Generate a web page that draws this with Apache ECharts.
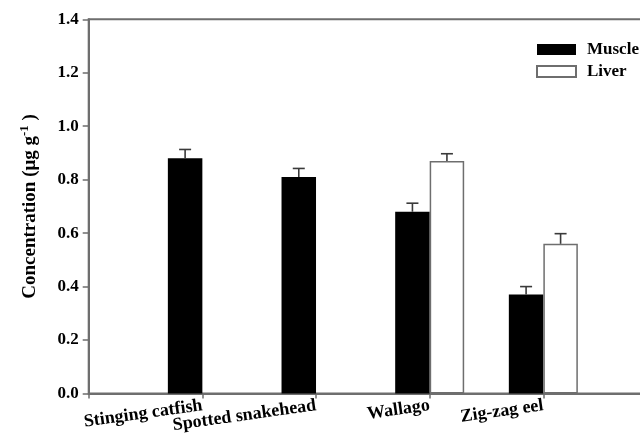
<!DOCTYPE html>
<html>
<head>
<meta charset="utf-8">
<script src="https://cdn.jsdelivr.net/npm/echarts@6/dist/echarts.min.js"></script>
<style>
  html, body { margin: 0; padding: 0; background: #fff; overflow: hidden; }
  /* The plot frame runs past the right edge of the page, so the canvas is a bit wider than the view */
  #chart { width: 660px; height: 438px; }
</style>
</head>
<body>
<div id="chart"></div>
<script>
// Fish species and measured concentrations (µg g-1)
const species = ['Stinging catfish', 'Spotted snakehead', 'Wallago', 'Zig-zag eel'];
const muscle = [0.88, 0.81, 0.68, 0.37];
const muscleErr = [0.033, 0.032, 0.032, 0.03];
const liver = [null, null, 0.87, 0.56];
const liverErr = [null, null, 0.027, 0.038];
const yTicks = [0.0, 0.2, 0.4, 0.6, 0.8, 1.0, 1.2, 1.4];

const FONT = '"Liberation Serif", "Times New Roman", serif';
const AXIS_GRAY = '#6e6e6e';
const BAR_W = 34.5;

// Pad the category axis with empty slots so the species sit at 1..4
const axisCats = [''].concat(species, ['']);
const pad = arr => [null].concat(arr, [null]);

function errorSeries(name, values, errs, side) {
  const data = [];
  values.forEach((v, i) => {
    if (v != null) data.push([i + 1, v, errs[i]]);
  });
  return {
    type: 'custom',
    name: name + ' error',
    silent: true,
    z: 5,
    data: data,
    encode: { x: 0, y: 1 },
    renderItem: function (params, api) {
      const base = api.coord([api.value(0), api.value(1)]);
      const top = api.coord([api.value(0), api.value(1) + api.value(2)]);
      const x = base[0] + side * BAR_W / 2;
      const cap = 6;
      const style = { stroke: '#3a3a3a', lineWidth: 1.6 };
      return {
        type: 'group',
        children: [
          { type: 'line', shape: { x1: x, y1: base[1], x2: x, y2: top[1] }, style: style },
          { type: 'line', shape: { x1: x - cap, y1: top[1], x2: x + cap, y2: top[1] }, style: style }
        ]
      };
    }
  };
}

const chart = echarts.init(document.getElementById('chart'), null, { renderer: 'canvas' });

chart.setOption({
  animation: false,
  backgroundColor: '#fff',
  grid: {
    left: 88.7, top: 19.3, bottom: 44.5, right: 3,
    show: true, borderColor: AXIS_GRAY, borderWidth: 2, containLabel: false
  },
  legend: {
    orient: 'vertical',
    left: 536, top: 41,
    padding: 0,
    itemWidth: 39, itemHeight: 11, itemGap: 5,
    icon: 'rect',
    data: ['Muscle', 'Liver'],
    textStyle: { fontFamily: FONT, fontWeight: 'bold', fontSize: 17, color: '#000', padding: [0, 0, 0, 6] }
  },
  xAxis: {
    type: 'category',
    data: axisCats,
    boundaryGap: false,
    axisLine: { lineStyle: { color: AXIS_GRAY, width: 2 } },
    axisTick: { show: true, inside: false, length: 5, alignWithLabel: true, lineStyle: { color: AXIS_GRAY, width: 1.5 } },
    axisLabel: {
      interval: 0, rotate: 8, margin: 12,
      fontFamily: FONT, fontWeight: 'bold', fontSize: 18, color: '#000'
    },
    splitLine: { show: false }
  },
  yAxis: {
    type: 'value',
    min: 0, max: 1.4, interval: 0.2,
    name: '{t|Concentration (\u03bcg g}{s|-1}{t| )}',
    nameLocation: 'middle',
    nameGap: 46,
    nameRotate: 90,
    nameTextStyle: {
      rich: {
        t: { fontFamily: FONT, fontWeight: 'bold', fontSize: 19, color: '#000' },
        s: { fontFamily: FONT, fontWeight: 'bold', fontSize: 13, color: '#000', verticalAlign: 'bottom', padding: [0, 0, 12, 0] }
      }
    },
    axisLine: { show: true, lineStyle: { color: AXIS_GRAY, width: 2 } },
    axisTick: { show: true, inside: false, length: 6, lineStyle: { color: AXIS_GRAY, width: 1.5 } },
    axisLabel: {
      margin: 10,
      fontFamily: FONT, fontWeight: 'bold', fontSize: 17, color: '#000',
      formatter: v => yTicks.find(t => Math.abs(t - v) < 1e-9).toFixed(1)
    },
    splitLine: { show: false }
  },
  series: [
    {
      name: 'Muscle', type: 'bar',
      data: pad(muscle),
      barWidth: BAR_W, barGap: '0%',
      itemStyle: { color: '#000', borderColor: '#000', borderWidth: 0 }
    },
    {
      name: 'Liver', type: 'bar',
      data: pad(liver),
      barWidth: BAR_W, barGap: '0%',
      itemStyle: { color: '#fff', borderColor: AXIS_GRAY, borderWidth: 1.5 }
    },
    errorSeries('Muscle', muscle, muscleErr, -1),
    errorSeries('Liver', liver, liverErr, 1)
  ]
});
</script>
</body>
</html>
